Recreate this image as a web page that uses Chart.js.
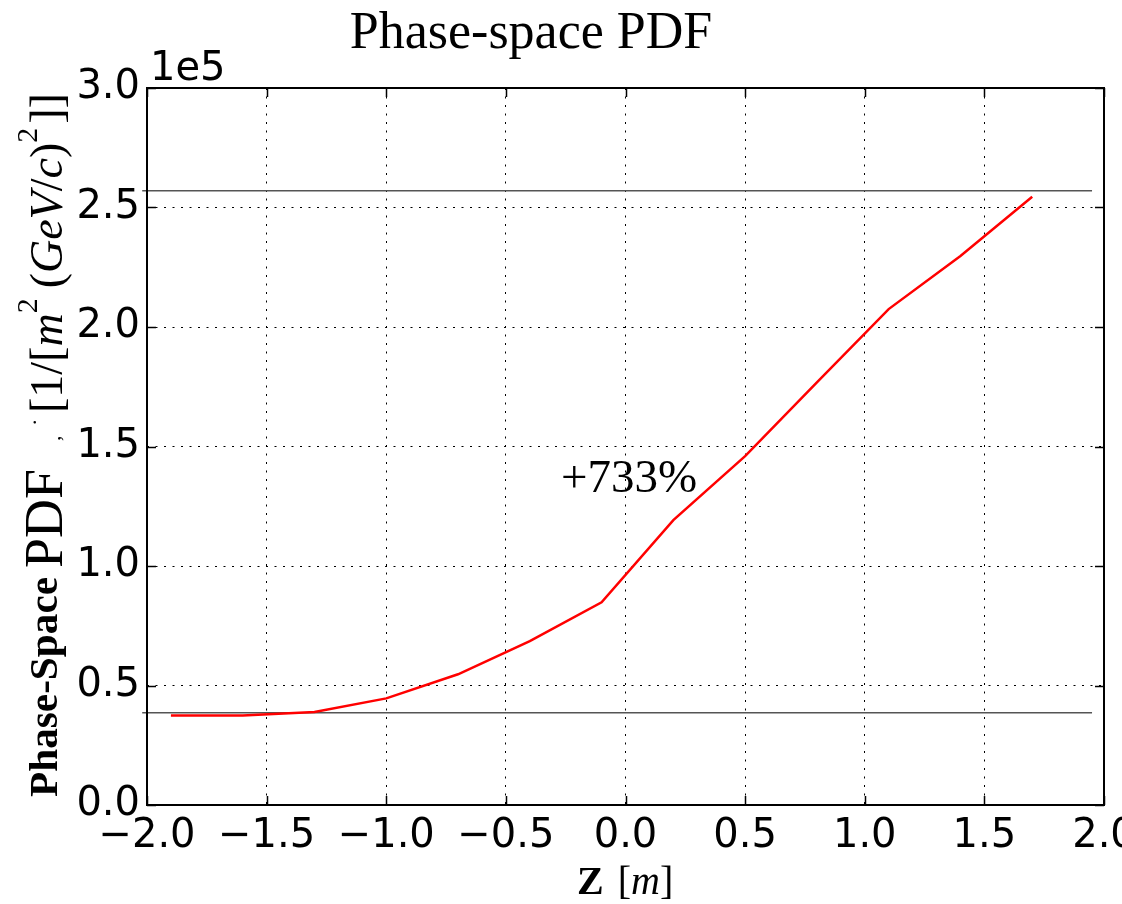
<!DOCTYPE html>
<html>
<head>
<meta charset="utf-8">
<script src="https://cdn.jsdelivr.net/npm/chart.js@4"></script>
<style>
  html, body { margin: 0; padding: 0; background: #fff; }
  #wrap { width: 1122px; height: 904px; }
</style>
</head>
<body>
<div id="wrap"><canvas id="pdfChart" width="1122" height="904"></canvas></div>
<script>
// values
var zPos = [-1.9, -1.6, -1.3, -1.0, -0.7, -0.4, -0.1, 0.2, 0.5, 0.8, 1.1, 1.4, 1.7];
var pdfValues = [37500, 37400, 38900, 44600, 54700, 68600, 84800, 119200, 146000, 176800, 207500, 229700, 254500];
var refLevels = [257000, 38600];
var refSpan = [-2.02, 1.95];
var xTicks = [-2.0, -1.5, -1.0, -0.5, 0.0, 0.5, 1.0, 1.5, 2.0];
var yTicks = [0, 50000, 100000, 150000, 200000, 250000, 300000];
var note = { x: -0.27, y: 137500, text: '+733%' };

var tickFont = '40px "DejaVu Sans"';
var serif = '"Liberation Serif", "DejaVu Serif", serif';

function pts(xs, ys) {
    var out = [];
    for (var i = 0; i < xs.length; i++) out.push({x: xs[i], y: ys[i]});
    return out;
}

var datasets = [{
    data: pts(zPos, pdfValues),
    borderColor: '#ff0000',
    borderWidth: 2.5,
    pointRadius: 0,
    tension: 0,
    fill: false
}];
for (var r of refLevels) {
    datasets.push({
        data: pts(refSpan, [r, r]),
        borderColor: '#555555',
        borderWidth: 1.3,
        pointRadius: 0,
        fill: false,
        clip: false
    });
}

// draw runs of text with different fonts one after another
function runs(ctx, parts, x, y) {
    for (var p of parts) {
        ctx.font = p.f;
        ctx.fillText(p.t, x, y + (p.dy || 0));
        x += ctx.measureText(p.t).width + (p.gap || 0);
    }
    return x;
}

var decor = {
    id: 'decor',
    afterDraw: function(chart) {
        var ctx = chart.ctx, a = chart.chartArea;
        var xs = chart.scales.x, ys = chart.scales.y;
        ctx.save();
        ctx.strokeStyle = '#000';
        ctx.lineWidth = 1.5;
        // inward ticks on all four sides
        ctx.beginPath();
        for (var v of xTicks) {
            var px = Math.round(xs.getPixelForValue(v)) + 0.5;
            ctx.moveTo(px, a.bottom); ctx.lineTo(px, a.bottom - 9);
            ctx.moveTo(px, a.top); ctx.lineTo(px, a.top + 9);
        }
        for (var w of yTicks) {
            var py = Math.round(ys.getPixelForValue(w)) + 0.5;
            ctx.moveTo(a.left, py); ctx.lineTo(a.left + 9, py);
            ctx.moveTo(a.right, py); ctx.lineTo(a.right - 9, py);
        }
        ctx.stroke();
        ctx.lineWidth = 2;
        ctx.strokeRect(a.left, a.top, a.right - a.left, a.bottom - a.top);

        ctx.fillStyle = '#000';
        ctx.textBaseline = 'alphabetic';
        // title
        ctx.font = '52px ' + serif;
        ctx.textAlign = 'center';
        ctx.fillText('Phase-space PDF', 531, 48);
        // offset
        ctx.textAlign = 'left';
        ctx.font = tickFont;
        ctx.fillText('1e5', 150, 80);
        // annotation
        ctx.font = '47px ' + serif;
        ctx.fillText(note.text, xs.getPixelForValue(note.x), ys.getPixelForValue(note.y) + 16);
        // x title
        runs(ctx, [
            {t: 'Z', f: 'bold 40px ' + serif, gap: 14},
            {t: '[', f: '40px ' + serif},
            {t: 'm', f: 'italic 40px ' + serif},
            {t: ']', f: '40px ' + serif}
        ], 577, 894);
        // y title, rotated
        ctx.translate(0, 797);
        ctx.rotate(-Math.PI / 2);
        ctx.save();
        ctx.font = 'bold 41px ' + serif;
        var pw = ctx.measureText('Phase-Space').width;
        ctx.scale(220 / pw, 1);
        ctx.fillText('Phase-Space', 0, 57);
        ctx.restore();
        ctx.font = '54px ' + serif;
        ctx.fillText('PDF', 229, 62);
        ctx.font = '22px ' + serif;
        ctx.fillText(',', 356, 60);
        ctx.fillText('.', 372, 36);
        var big = '46px ' + serif, it = 'italic 46px ' + serif, sup = '30px ' + serif;
        runs(ctx, [
            {t: '[1/[', f: big},
            {t: 'm', f: it},
            {t: '2', f: sup, dy: -25, gap: 10},
            {t: '(', f: big},
            {t: 'GeV', f: it},
            {t: '/', f: big},
            {t: 'c', f: it},
            {t: ')', f: big},
            {t: '2', f: sup, dy: -25, gap: 4},
            {t: ']]', f: big}
        ], 384, 62);
        ctx.restore();
    }
};

new Chart(document.getElementById('pdfChart'), {
    type: 'line',
    data: { datasets: datasets },
    plugins: [decor],
    options: {
        responsive: false,
        animation: false,
        layout: { padding: { top: 88, right: 18, left: 0, bottom: 0 } },
        plugins: { legend: { display: false }, tooltip: { enabled: false } },
        scales: {
            x: {
                type: 'linear',
                min: -2, max: 2,
                afterFit: function(s) { s.height = 99; s.paddingLeft = 0; s.paddingRight = 0; },
                afterBuildTicks: function(s) { s.ticks = xTicks.map(function(v) { return {value: v}; }); },
                grid: { color: '#000', lineWidth: 1, drawTicks: false },
                border: { display: false, dash: [2, 6.5] },
                ticks: {
                    color: '#000', padding: 8, maxRotation: 0, autoSkip: false,
                    font: { family: 'DejaVu Sans', size: 40 },
                    callback: function(v) { return v.toFixed(1).replace('-', '\u2212'); }
                }
            },
            y: {
                min: 0, max: 300000,
                afterFit: function(s) { s.width = 147; s.paddingTop = 0; s.paddingBottom = 0; },
                afterBuildTicks: function(s) { s.ticks = yTicks.map(function(v) { return {value: v}; }); },
                grid: { color: '#000', lineWidth: 1, drawTicks: false },
                border: { display: false, dash: [2, 6.5] },
                ticks: {
                    color: '#000', padding: 7, autoSkip: false,
                    font: { family: 'DejaVu Sans', size: 40 },
                    callback: function(v) { return (v / 1e5).toFixed(1); }
                }
            }
        }
    }
});
</script>
</body>
</html>
